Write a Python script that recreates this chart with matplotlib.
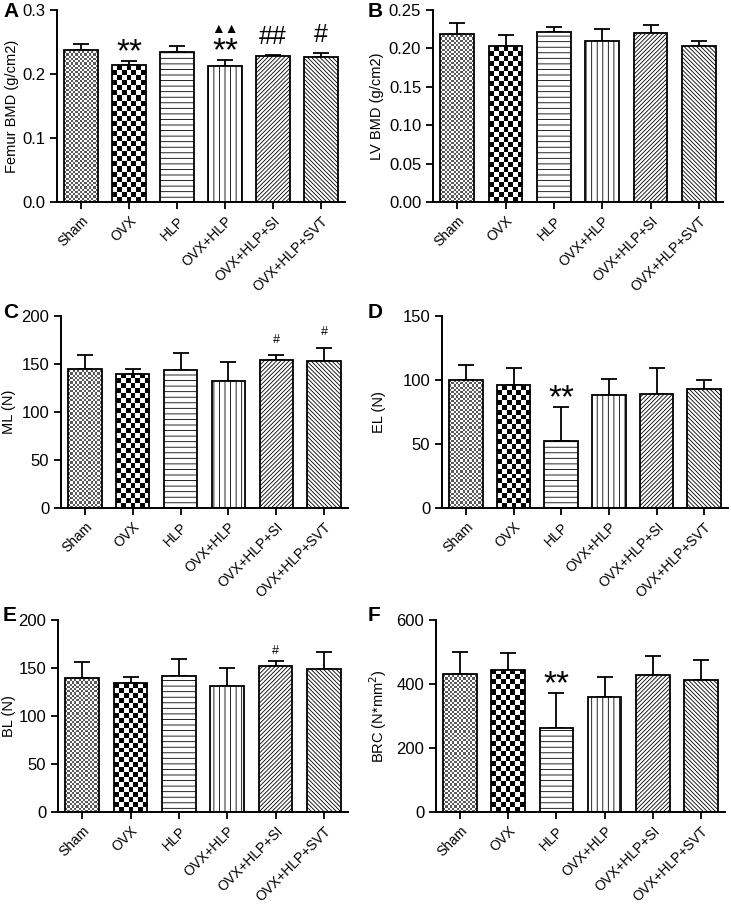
import numpy as np
import matplotlib
matplotlib.use("Agg")
import matplotlib.pyplot as plt

plt.rcParams['font.family'] = ['Liberation Sans', 'DejaVu Sans']
plt.rcParams['hatch.linewidth'] = 0.6

groups = ["Sham", "OVX", "HLP", "OVX+HLP", "OVX+HLP+SI", "OVX+HLP+SVT"]

femur_bmd = [0.238, 0.214, 0.234, 0.212, 0.228, 0.226]
femur_err = [0.009, 0.006, 0.010, 0.010, 0.002, 0.007]

lv_bmd = [0.219, 0.203, 0.221, 0.209, 0.220, 0.203]
lv_err = [0.014, 0.014, 0.007, 0.016, 0.011, 0.007]

ml = [145, 140, 144, 132, 154, 153]
ml_err = [14, 5, 17, 20, 5, 14]

el = [100, 96, 52, 88, 89, 93]
el_err = [12, 13, 27, 13, 20, 7]

bl = [140, 134, 142, 131, 152, 149]
bl_err = [16, 7, 17, 19, 5, 18]

brc = [432, 445, 264, 358, 428, 413]
brc_err = [69, 53, 108, 64, 60, 61]

# significance marks: (bar index, text, fontsize, offset in points)
marks_A = [(1, "**", 24, -5), (3, "**", 24, -5), (4, "##", 18, 4), (5, "#", 18, 4),
           (3, "\u25b2\u25b2", 10, 17)]
marks_C = [(4, "#", 9, 7), (5, "#", 9, 7)]
marks_D = [(2, "**", 24, -5)]
marks_E = [(4, "#", 9, 3)]
marks_F = [(2, "**", 24, -5)]

W, H = 731, 908
fig = plt.figure(figsize=(W / 100, H / 100), dpi=100)


def add_ax(left, right, top, bottom):
    return fig.add_axes([left / W, 1 - bottom / H, (right - left) / W, (bottom - top) / H])


def checker(ax, bar, cell, dark):
    x0, y0 = bar.get_x(), bar.get_y()
    x1, y1 = x0 + bar.get_width(), y0 + bar.get_height()
    p0 = ax.transData.transform((x0, y0))
    p1 = ax.transData.transform((x1, y1))
    nx = max(1, int(round(abs(p1[0] - p0[0]) / cell)))
    ny = max(1, int(round(abs(p1[1] - p0[1]) / cell)))
    ii, jj = np.indices((ny, nx))
    img = ((ii + jj) % 2).astype(float)
    cmap = matplotlib.colors.ListedColormap(["white", dark])
    im = ax.imshow(img, extent=(x0, x1, y0, y1), cmap=cmap, interpolation="nearest",
                   aspect="auto", origin="lower", zorder=1.5)
    im.set_clip_path(bar)


def panel(ax, vals, errs, ymax, ystep, ylabel, label_px, fmt=None, marks=()):
    x = np.arange(len(groups))
    ax.set_xlim(-0.5, len(groups) - 0.5)
    ax.set_ylim(0, ymax)
    hatches = [None, None, "---", "|||", "/" * 8, "\\" * 8]
    bars = ax.bar(x, vals, width=0.7, facecolor="white", edgecolor="black",
                  linewidth=1.3, zorder=2)
    for b, h in zip(bars, hatches):
        if h:
            b.set_hatch(h)
    bars[0].set_facecolor("none")
    bars[1].set_facecolor("none")
    checker(ax, bars[0], 2.2, "#5a5a5a")
    checker(ax, bars[1], 5.0, "black")
    ax.errorbar(x, vals, yerr=[np.zeros(len(vals)), errs], fmt="none", ecolor="black",
                elinewidth=1.3, capsize=6, capthick=1.3, zorder=1)
    for i, txt, fs, off in marks:
        ax.annotate(txt, (x[i], vals[i] + errs[i]), xytext=(0, off), textcoords="offset points",
                    ha="center", va="bottom", fontsize=fs, zorder=4)
    ax.set_yticks(np.arange(0, ymax + ystep / 2, ystep))
    if fmt:
        ax.yaxis.set_major_formatter(matplotlib.ticker.FormatStrFormatter(fmt))
    ax.set_xticks(x)
    ax.set_xticklabels(groups, rotation=45, ha="right", rotation_mode="anchor")
    ax.tick_params(axis="y", labelsize=12)
    ax.tick_params(axis="x", labelsize=10)
    ax.tick_params(width=1.3, length=5, color="black")
    for s in ["top", "right"]:
        ax.spines[s].set_visible(False)
    for s in ["left", "bottom"]:
        ax.spines[s].set_linewidth(1.4)
    ax.set_ylabel(ylabel, fontsize=10.5)
    # place label centre at a given pixel column
    bb = ax.get_position()
    ax.yaxis.set_label_coords((label_px + 7 - bb.x0 * W) / (bb.width * W), 0.5)
    return ax


axA = add_ax(57, 345, 10, 202)
panel(axA, femur_bmd, femur_err, 0.3, 0.1, "Femur BMD (g/cm2)", 12, "%.1f", marks_A)

axB = add_ax(433, 723, 10, 202)
panel(axB, lv_bmd, lv_err, 0.25, 0.05, "LV BMD (g/cm2)", 377, "%.2f")

axC = add_ax(61, 348, 316, 508)
panel(axC, ml, ml_err, 200, 50, "ML (N)", 9, None, marks_C)

axD = add_ax(442, 728, 316, 508)
panel(axD, el, el_err, 150, 50, "EL (N)", 379, None, marks_D)

axE = add_ax(58, 348, 620, 812)
panel(axE, bl, bl_err, 200, 50, "BL (N)", 9, None, marks_E)

axF = add_ax(436, 725, 620, 812)
panel(axF, brc, brc_err, 600, 200, "BRC (N*mm$^2$)", 382, None, marks_F)

for letter, px, py in [("A", 3, 2), ("B", 368, 2), ("C", 3, 303), ("D", 368, 303),
                       ("E", 3, 606), ("F", 368, 606)]:
    fig.text(px / W, 1 - py / H, letter, fontsize=15, fontweight="bold", va="top", ha="left")

fig.savefig("out.png", dpi=100)
